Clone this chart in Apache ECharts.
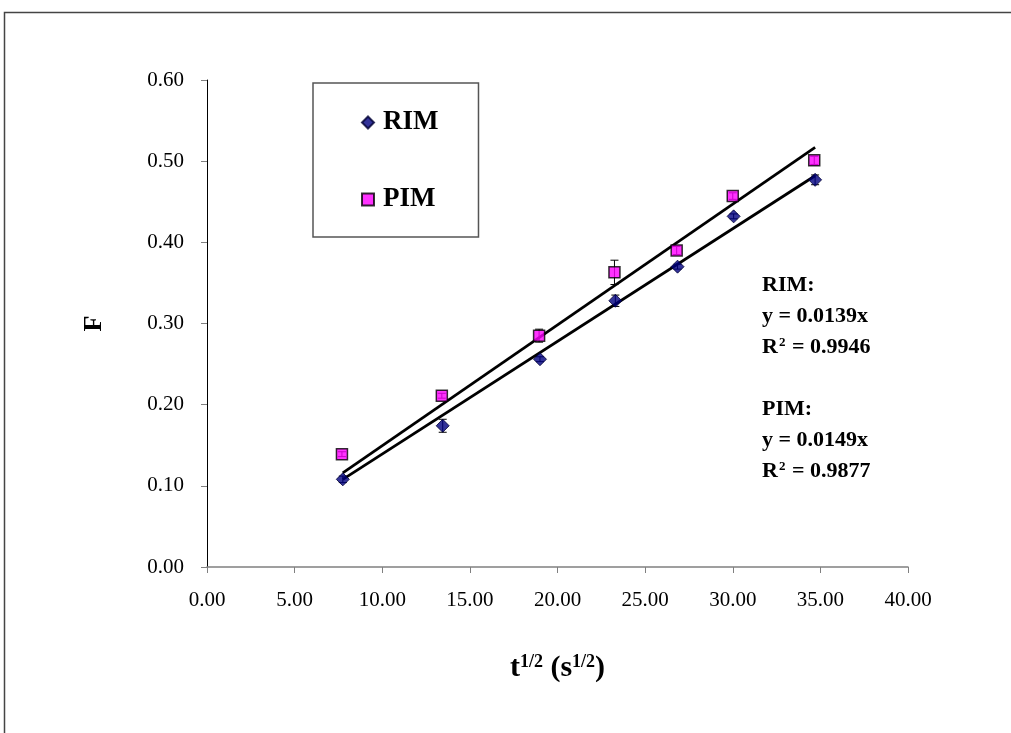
<!DOCTYPE html>
<html>
<head>
<meta charset="utf-8">
<script src="https://cdn.jsdelivr.net/npm/echarts@6/dist/echarts.min.js"></script>
<style>
  html, body { margin: 0; padding: 0; background: #fff; }
  #chart { width: 1011px; height: 733px; }
</style>
</head>
<body>
<div id="chart"></div>
<script>
// sqrt(t) values
const rimX = [7.75, 13.45, 19.0, 23.3, 26.85, 30.05, 34.7]
const rimY = [0.108, 0.174, 0.256, 0.328, 0.370, 0.432, 0.477]
const rimErr = [0.004, 0.008, 0.003, 0.007, 0.003, 0.003, 0.006]

const pimX = [7.7, 13.4, 18.95, 23.25, 26.8, 30.0, 34.65]
const pimY = [0.139, 0.211, 0.285, 0.363, 0.390, 0.457, 0.501]
const pimErr = [0.003, 0.003, 0.008, 0.015, 0.005, 0.004, 0.005]

// fitted lines (end points)
const rimFit = [[7.75, 0.108], [34.7, 0.482]]
const pimFit = [[7.75, 0.116], [34.7, 0.517]]

const serif = '"Liberation Serif", "Times New Roman", serif'

const chart = echarts.init(document.getElementById('chart'))

function pairs(xs, ys) {
    return xs.map((x, i) => [x, ys[i]])
}

function errData(xs, ys, es) {
    return xs.map((x, i) => [x, ys[i] - es[i], ys[i] + es[i]])
}

function errorBars(params, api) {
    const lo = api.coord([api.value(0), api.value(1)])
    const hi = api.coord([api.value(0), api.value(2)])
    const w = 4
    const style = { stroke: '#000', lineWidth: 1 }
    return {
        type: 'group',
        children: [
            { type: 'line', shape: { x1: lo[0], y1: lo[1], x2: hi[0], y2: hi[1] }, style },
            { type: 'line', shape: { x1: lo[0] - w, y1: lo[1], x2: lo[0] + w, y2: lo[1] }, style },
            { type: 'line', shape: { x1: hi[0] - w, y1: hi[1], x2: hi[0] + w, y2: hi[1] }, style }
        ]
    }
}

const noteRich = {
    b: { fontFamily: serif, fontWeight: 'bold', fontSize: 22, color: '#000' },
    s: { fontFamily: serif, fontWeight: 'bold', fontSize: 13, color: '#000', verticalAlign: 'top', padding: [0, 1, 9, 1] }
}

function note(top, text) {
    return {
        type: 'text',
        left: 762,
        top: top,
        style: { text: text, rich: noteRich, font: 'bold 22px ' + serif, fill: '#000' }
    }
}

const option = {
    animation: false,
    backgroundColor: '#fff',
    grid: { left: 207, top: 80, right: 103, bottom: 166 },
    legend: {
        data: ['RIM', 'PIM'],
        orient: 'vertical',
        left: 313,
        top: 83,
        padding: [26, 40, 24, 48],
        itemGap: 50,
        itemWidth: 12,
        itemHeight: 12,
        borderColor: '#555',
        borderWidth: 1.5,
        textStyle: { fontFamily: serif, fontWeight: 'bold', fontSize: 27, color: '#000', padding: [0, 0, 0, 4] }
    },
    xAxis: {
        type: 'value',
        min: 0,
        max: 40,
        interval: 5,
        name: '{b|t}{s|1/2}{b| (s}{s|1/2}{b|)}',
        nameLocation: 'middle',
        nameGap: 86,
        nameTextStyle: {
            rich: {
                b: { fontFamily: serif, fontWeight: 'bold', fontSize: 30, color: '#000' },
                s: { fontFamily: serif, fontWeight: 'bold', fontSize: 18, color: '#000', verticalAlign: 'top', padding: [0, 0, 12, 0] }
            }
        },
        axisLine: { lineStyle: { color: '#808080', width: 1.5 } },
        axisTick: { inside: false, length: 6, lineStyle: { color: '#808080' } },
        axisLabel: {
            margin: 23,
            fontFamily: serif,
            fontSize: 21,
            color: '#000',
            formatter: v => v.toFixed(2)
        },
        splitLine: { show: false }
    },
    yAxis: {
        type: 'value',
        min: 0,
        max: 0.6,
        interval: 0.1,
        name: 'F',
        nameLocation: 'middle',
        nameGap: 100,
        nameTextStyle: { fontFamily: serif, fontWeight: 'bold', fontSize: 26, color: '#000' },
        axisLine: { show: true, lineStyle: { color: '#000', width: 1 } },
        axisTick: { show: true, inside: false, length: 6, lineStyle: { color: '#808080' } },
        axisLabel: {
            margin: 23,
            fontFamily: serif,
            fontSize: 21,
            color: '#000',
            formatter: v => v.toFixed(2)
        },
        splitLine: { show: false }
    },
    graphic: [
        {
            type: 'rect',
            shape: { x: 4.5, y: 12.5, width: 1200, height: 900 },
            style: { fill: 'none', stroke: '#444', lineWidth: 1.5 },
            silent: true,
            z: -1
        },
        note(274, '{b|RIM:}'),
        note(305, '{b|y = 0.0139x}'),
        note(336, '{b|R}{s|2}{b| = 0.9946}'),
        note(398, '{b|PIM:}'),
        note(429, '{b|y = 0.0149x}'),
        note(460, '{b|R}{s|2}{b| = 0.9877}')
    ],
    series: [
        {
            name: 'RIM fit',
            type: 'line',
            data: rimFit,
            symbol: 'none',
            lineStyle: { color: '#000', width: 2.8 },
            z: 2
        },
        {
            name: 'PIM fit',
            type: 'line',
            data: pimFit,
            symbol: 'none',
            lineStyle: { color: '#000', width: 2.8 },
            z: 2
        },
        {
            name: 'RIM err',
            type: 'custom',
            renderItem: errorBars,
            data: errData(rimX, rimY, rimErr),
            encode: { x: 0, y: [1, 2] },
            z: 3
        },
        {
            name: 'PIM err',
            type: 'custom',
            renderItem: errorBars,
            data: errData(pimX, pimY, pimErr),
            encode: { x: 0, y: [1, 2] },
            z: 3
        },
        {
            name: 'RIM',
            type: 'scatter',
            data: pairs(rimX, rimY),
            symbol: 'diamond',
            symbolSize: 13,
            itemStyle: { color: '#000080', borderColor: '#000033', borderWidth: 1 },
            z: 4
        },
        {
            name: 'PIM',
            type: 'scatter',
            data: pairs(pimX, pimY),
            symbol: 'rect',
            symbolSize: 11,
            itemStyle: { color: '#ff00ff', borderColor: '#000', borderWidth: 1.5 },
            z: 4
        }
    ]
}

chart.setOption(option)
window.addEventListener('resize', () => chart && chart.resize())
</script>
</body>
</html>
